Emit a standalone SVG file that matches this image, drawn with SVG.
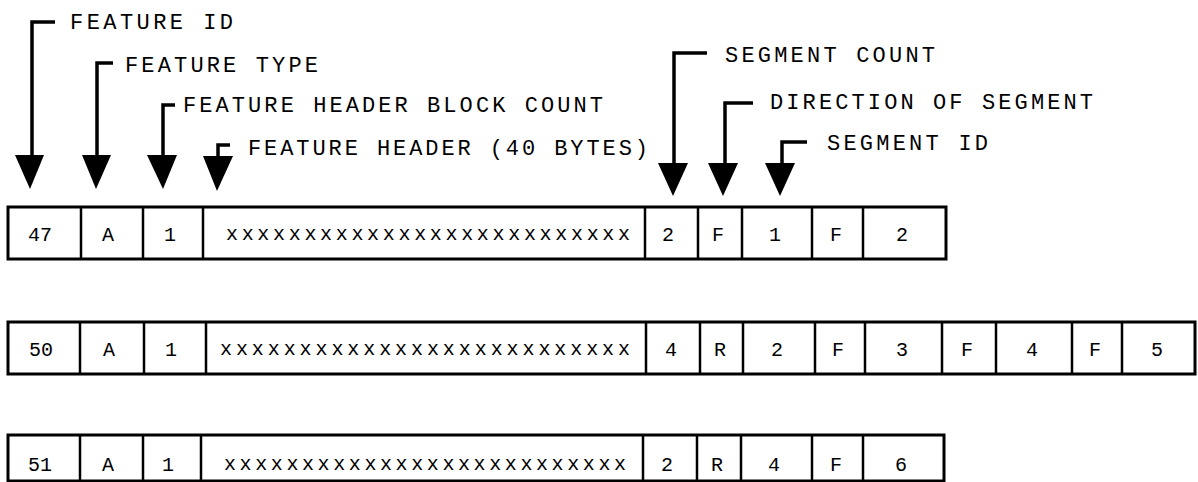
<svg xmlns="http://www.w3.org/2000/svg" width="1198" height="482" viewBox="0 0 1198 482">
<style>
.lbl{font-family:"Liberation Mono","DejaVu Sans Mono",monospace;font-size:22px;fill:#000}
.cell{font-family:"Liberation Mono","DejaVu Sans Mono",monospace;font-size:20px;fill:#000;text-anchor:middle}
.xx{font-family:"Liberation Mono","DejaVu Sans Mono",monospace;font-size:20px;fill:#000}
.box{fill:#fff;stroke:#000;stroke-width:3}
.div{stroke:#000;stroke-width:2.5}
.lead{fill:none;stroke:#000;stroke-width:3.5;stroke-linejoin:miter}
.head{fill:#000;stroke:none}
</style>
<rect width="1198" height="482" fill="#fff"/>
<g id="connectors">
  <path class="lead" d="M32,158 V22 H55"/>
  <polygon class="head" points="15,155 44,155 30,189"/>
  <path class="lead" d="M97,158 V63 H113"/>
  <polygon class="head" points="82,155 111,155 96,189"/>
  <path class="lead" d="M163,158 V105 H175"/>
  <polygon class="head" points="147,155 177,155 163,189"/>
  <path class="lead" d="M218,158 V145 H230"/>
  <polygon class="head" points="203,156 233,156 217,191"/>
  <path class="lead" d="M674,166 V53 H707"/>
  <polygon class="head" points="658,163 688,163 673,196"/>
  <path class="lead" d="M725,166 V103 H753"/>
  <polygon class="head" points="708,163 738,163 723,196"/>
  <path class="lead" d="M782,166 V142 H807"/>
  <polygon class="head" points="765,163 795,163 780,196"/>
</g>
<g id="labels">
  <text class="lbl" x="70" y="29" textLength="163" lengthAdjust="spacing">FEATURE ID</text>
  <text class="lbl" x="125" y="72" textLength="193" lengthAdjust="spacing">FEATURE TYPE</text>
  <text class="lbl" x="183" y="112" textLength="420" lengthAdjust="spacing">FEATURE HEADER BLOCK COUNT</text>
  <text class="lbl" x="248" y="155" textLength="400" lengthAdjust="spacing">FEATURE HEADER (40 BYTES)</text>
  <text class="lbl" x="725" y="62" textLength="210" lengthAdjust="spacing">SEGMENT COUNT</text>
  <text class="lbl" x="770" y="109" textLength="323" lengthAdjust="spacing">DIRECTION OF SEGMENT</text>
  <text class="lbl" x="827" y="150" textLength="161" lengthAdjust="spacing">SEGMENT ID</text>
</g>
<g id="record-47">
  <rect class="box" x="8" y="207" width="938" height="52"/>
  <path class="div" d="M81,207V259M143,207V259M203,207V259M645,207V259M698,207V259M742,207V259M812,207V259M863,207V259"/>
  <text class="cell" x="40" y="241">47</text>
  <text class="cell" x="108" y="241">A</text>
  <text class="cell" x="170" y="241">1</text>
  <text class="xx" x="226" y="240" textLength="404" lengthAdjust="spacing">xxxxxxxxxxxxxxxxxxxxxxxxxx</text>
  <text class="cell" x="668" y="241">2</text>
  <text class="cell" x="718" y="241">F</text>
  <text class="cell" x="775" y="241">1</text>
  <text class="cell" x="836" y="241">F</text>
  <text class="cell" x="902" y="241">2</text>
</g>
<g id="record-50">
  <rect class="box" x="8" y="322" width="1187" height="52"/>
  <path class="div" d="M80,322V374M144,322V374M206,322V374M646,322V374M700,322V374M743,322V374M815,322V374M865,322V374M942,322V374M996,322V374M1072,322V374M1122,322V374"/>
  <text class="cell" x="41" y="356">50</text>
  <text class="cell" x="109" y="356">A</text>
  <text class="cell" x="171" y="356">1</text>
  <text class="xx" x="220" y="355" textLength="410" lengthAdjust="spacing">xxxxxxxxxxxxxxxxxxxxxxxxxx</text>
  <text class="cell" x="671" y="356">4</text>
  <text class="cell" x="720" y="356">R</text>
  <text class="cell" x="777" y="356">2</text>
  <text class="cell" x="838" y="356">F</text>
  <text class="cell" x="902" y="356">3</text>
  <text class="cell" x="967" y="356">F</text>
  <text class="cell" x="1032" y="356">4</text>
  <text class="cell" x="1095" y="356">F</text>
  <text class="cell" x="1157" y="356">5</text>
</g>
<g id="record-51">
  <rect class="box" x="8" y="435" width="936" height="46"/>
  <path class="div" d="M80,435V481M143,435V481M201,435V481M643,435V481M697,435V481M741,435V481M812,435V481M863,435V481"/>
  <text class="cell" x="40" y="471">51</text>
  <text class="cell" x="108" y="471">A</text>
  <text class="cell" x="168" y="471">1</text>
  <text class="xx" x="224" y="470" textLength="402" lengthAdjust="spacing">xxxxxxxxxxxxxxxxxxxxxxxxxx</text>
  <text class="cell" x="667" y="471">2</text>
  <text class="cell" x="717" y="471">R</text>
  <text class="cell" x="774" y="471">4</text>
  <text class="cell" x="836" y="471">F</text>
  <text class="cell" x="901" y="471">6</text>
</g>
</svg>
